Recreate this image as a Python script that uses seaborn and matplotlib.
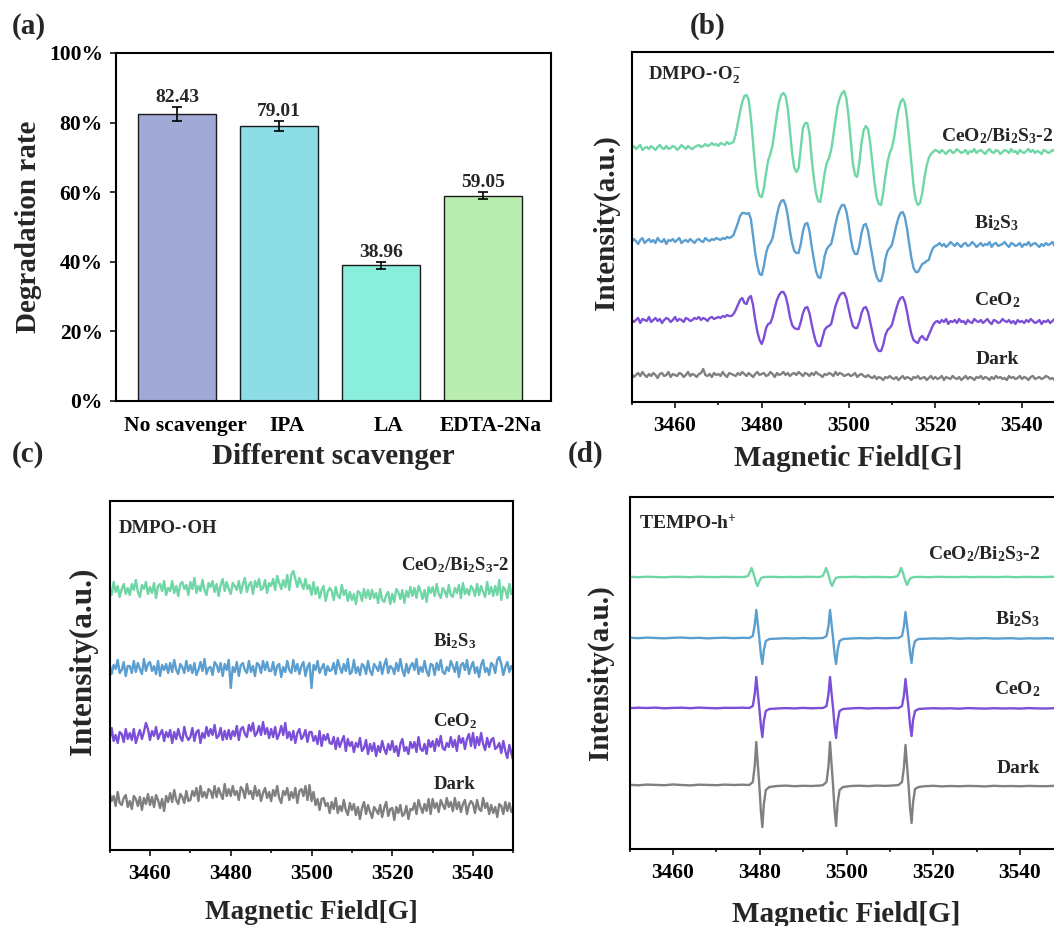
import numpy as np
import pandas as pd
import matplotlib
matplotlib.use("Agg")
import matplotlib.pyplot as plt
import matplotlib.transforms as mtransforms
from matplotlib.ticker import MultipleLocator, FuncFormatter
import seaborn as sns

# (a) scavenger experiment
scavengers = ['No scavenger', 'IPA', 'LA', 'EDTA-2Na']
degradation = [82.43, 79.01, 38.96, 59.05]
degradation_err = [1.95, 1.4, 0.95, 0.95]
bar_colors = ['#a1a9d6', '#8cdde6', '#8aeedd', '#b9eeb0']

# EPR samples (same order in all three spectra panels)
samples = ['CeO2/Bi2S3-2', 'Bi2S3', 'CeO2', 'Dark']
sample_labels = [r'CeO$_2$/Bi$_2$S$_3$-2', r'Bi$_2$S$_3$', r'CeO$_2$', 'Dark']
line_colors = ['#6fd6a6', '#5b9fd1', '#7c4fd8', '#808080']

# field axis of the DMPO scans, 0.5 G step
field_grid = np.arange(3450, 3550.01, 0.5)

# (b) DMPO-.O2- signal, relative to each baseline
o2_green = [
    0, 2, -1, 1, 3, -2, 0, 1, -1, 2, 0, -2, 1, 3, 0, -1, 2, -1, 0, 2,
    1, -2, 0, 3, 1, -1, 2, 0, -1, 1, 2, 3, 1, 2, 4, 2, 3, 5, 3, 4,
    2, 5, 4, 3, 6, 4,
    5, 6, 14, 25, 36, 46, 52, 53, 48, 30,
    5, -20, -40, -48, -49, -40, -25, -12, -6, 3,
    18, 34, 46, 53, 55, 52, 40, 18, -5, -20,
    -24, -20, 0, 20, 25, 25, 15, -10, -30, -45,
    -53, -54, -40, -25, -15, -10, -2, 12, 28, 42,
    50, 55, 57, 50, 32, 8, -15, -27, -29, -15,
    5, 18, 22, 19, 5, -15, -35, -50, -56, -57,
    -45, -28, -14, -5, 0, 10, 25, 38, 46, 49,
    45, 30, 8, -15, -38, -52, -57, -55, -45, -30,
    -18, -10, -6, -4, -2,
    -3, -5, -2, -4, -6, -3, -2, -5, -4, -1, -3, -5, -4, -2, -6, -3, -4, -1, -5, -3,
    -2, -4, -6, -3, -1, -4, -5, -2, -3, -6, -4, -2, -3, -5, -1, -4, -3, -6, -2, -4,
    -5, -3, -1, -4, -2, -5, -3, -4, -6, -2, -3, -5, -4, -2, -3, -1, -4, -5, -3, -4,
]
o2_blue = [
    -1, 2, 0, -3, 1, 3, -2, 0, 2, -1, 1, -2, 3, 0, -1, 2, -3, 1, 0, 2,
    -1, 1, 3, -2, 0, 1, -1, 2, 0, -2, 1, 2, 0, -1, 3, 1, 0, 2, 1, 3,
    2, 1, 3, 2, 4, 3,
    4, 6, 12, 18, 25, 28, 28, 27, 28, 22,
    5, -12, -25, -33, -34, -25, -12, -5, -2, 3,
    14, 26, 35, 40, 41, 36, 25, 10, -2, -10,
    -12, -12, -3, 10, 17, 18, 10, -5, -18, -30,
    -36, -37, -28, -15, -8, -5, -3, 6, 17, 26,
    32, 36, 36, 30, 18, 3, -8, -13, -13, -5,
    8, 16, 17, 10, -3, -15, -28, -36, -40, -40,
    -32, -18, -10, -7, -4, 5, 15, 23, 28, 29,
    24, 12, -3, -17, -27, -31, -31, -27, -23, -22,
    -20, -19, -12, -7, -5,
    -4, -2, -5, -3, -6, -4, -1, -3, -5, -2, -4, -6, -3, -2, -5, -4, -1, -3, -6, -4,
    -2, -5, -3, -4, -1, -6, -3, -2, -5, -4, -3, -1, -4, -6, -2, -3, -5, -4, -2, -6,
    -3, -4, -1, -5, -3, -2, -4, -6, -3, -5, -2, -4, -3, -1, -5, -4, -2, -6, -3, -4,
]
o2_purple = [
    1, -2, 0, 2, -3, 1, 0, -1, 3, -2, 0, 2, -1, 1, -3, 0, 2, 1, -2, 0,
    3, -1, 1, 0, -2, 2, 1, -1, 0, 2, 1, 3, 0, 2, 1, -1, 2, 3, 1, 2,
    3, 2, 4, 3, 5, 4,
    4, 6, 10, 15, 20, 22, 17, 16, 22, 24,
    15, 0, -12, -20, -24, -18, -8, -4, -3, 3,
    12, 20, 25, 28, 28, 24, 15, 3, -5, -8,
    -9, -9, -2, 7, 12, 13, 7, -4, -14, -22,
    -26, -26, -18, -10, -7, -6, -4, 5, 14, 20,
    25, 27, 27, 22, 12, 2, -6, -8, -8, -2,
    7, 12, 13, 8, -2, -12, -22, -28, -31, -31,
    -25, -15, -10, -8, -5, 3, 11, 18, 22, 23,
    18, 8, -4, -14, -20, -22, -23, -18, -16, -19,
    -20, -15, -10, -5, -2,
    -1, -3, 0, -2, 1, -4, -1, -2, 0, -3, 1, -2, -1, -4, 0, -2, -3, 1, -1, -2,
    0, -3, -1, 1, -2, -4, 0, -1, -3, -2, 1, -1, -2, 0, -3, -1, -4, 0, -2, -1,
    -3, 0, -2, 1, -1, -3, -2, 0, -4, -1, -2, 0, -3, -1, 1, -2, -3, -1, 0, -2,
]
o2_gray = [
    1, -2, 0, 2, -1, 3, 0, -2, 1, -1, 2, 0, -3, 1, 2, -1, 0, 3, -2, 1,
    0, -1, 2, 1, -2, 0, 3, -1, 1, 0, -2, 1, 2, 6, 0, -1, 1, -2, 2, 0,
    1, -1, 3, 0, -2, 2, 1, 0, -1, 2, 0, 3, 1, -1, 2, 0, -2, 1, 3, 0,
    1, 2, -1, 0, 3, 1, -2, 2, 0, 1, 3, 0, 2, -1, 1, 2, 0, 3, 1, -1,
    2, 1, -1, 2, 0, 3, 1, 0, -2, 1, 0, 2, 1, -1, 3, 0, 2, 1, -1, 0,
    1, -1, 0, 2, -2, 0, 1, -1, -2, 0, -2, -3, -1, -4, -2, -3, -5, -2, -3, -1,
    -3, -4, -2, -5, -3, -1, -4, -2, -3, -5, -2, -3, -1, -4, -3, -2, -5, -3, -1, -4,
    -2, -4, -3, -1, -5, -2, -3, -4, -1, -3, -4, -2, -5, -3, -1, -4, -2, -3, -5, -2,
    -3, -1, -4, -2, -3, -5, -2, -4, -1, -3, -2, -4, -3, -5, -1, -3, -2, -4, -3, -1,
    -4, -2, -3, -5, -2, -1, -4, -3, -2, -4, -3, -1, -2, -4, -3, -5, -2, -3, -1, -2,
    -3,
]
o2_offsets = [254, 161, 82, 27]

# (c) DMPO-.OH signal (noise only)
oh_green = [
    3, -5, 8, -2, 4, -7, 1, 6, -4, 2, -5, 6, 0, 10, -2, -7, 5, 1, 8, -4,
    3, -3, 7, -8, 4, 6, -1, 9, -5, 2, -1, 9, -3, 4, -6, 6, 8, 1, 5, -5,
    8, 1, 12, -3, 4, -1, 10, 0, -5, 7, 3, 9, -2, 6, -6, 5, 11, -1, 8, 1,
    -4, 7, 4, 0, 9, -3, 6, 12, -2, 5, 8, -4, 9, 3, 11, 0, 2, 10, -3, 7,
    4, 11, 0, 14, 7, 1, 10, 3, 15, 0, 15, 19, 11, 3, 12, 6, 1, 11, 1, 5,
    -5, 8, -4, 3, -8, 0, 4, -11, -2, 2, -1, -10, 3, -6, -8, 5, -5, 0, -11, -2,
    -10, -4, -14, -1, -3, -11, 1, -8, 0, -9, 0, -8, -3, -13, 1, -10, -12, -5, -2, -14,
    -4, -12, 1, -2, -9, 0, -13, -1, -7, 3, -6, 2, -8, 4, -1, -9, 0, -12, 3, -3,
    3, -6, 6, -4, -8, 2, -1, -7, 5, -5, -7, 2, -3, 5, -8, 7, -4, 1, -5, 4,
    1, -6, 6, -5, 4, -2, -7, 8, -4, 3, -6, 4, -5, 10, -10, 3, 0, -8, 6, -4,
    -3,
]
oh_blue = [
    4, -6, 3, -1, 8, -5, -2, 6, -8, 2, 2, -5, 7, -4, 5, -1, -6, 9, -3, 4,
    6, -3, 2, -6, 7, -8, 3, -2, 4, -5, 5, -4, 8, -2, -6, 4, 1, -5, 7, -3,
    3, -5, 5, -7, -2, 6, -3, 9, -6, 0, 1, -7, 6, 3, -4, 5, -8, 4, -2, 8,
    -20, 1, -4, 6, -8, 3, 5, -2, -5, 7, -4, 2, -8, 5, 3, -5, 7, -2, 6, -3,
    -3, 6, -7, 2, 4, -9, 1, -4, 7, -2, -5, 8, -3, 4, -6, 2, 6, -8, 1, 5,
    -20, 3, -2, 7, -5, 0, 4, -7, 2, -3, -2, 5, -6, 8, 1, -5, 4, -3, 9, -6,
    -4, 8, -5, 1, -7, 4, 2, -6, 7, -3, -7, 4, 1, -3, 6, -6, 3, 9, -5, 2,
    0, -6, 5, -3, 9, -2, -8, 4, -5, 2, 5, -2, 9, -6, 1, -4, 7, -3, -8, 4,
    3, -7, 5, -2, 8, -4, -6, 1, -3, 7, 2, -4, 6, -9, 3, 5, -2, 8, -6, 1,
    6, -5, 1, -9, 3, 8, -4, 0, -7, 5, 3, -5, 8, 11, 4, -7, 1, 6, -4, 2,
    -3,
]
oh_purple = [
    -3, 9, -4, 2, -6, 5, 3, -5, 8, -2, 4, -3, 8, -6, 1, 7, -2, 5, 14, 8,
    -3, 6, 1, 10, -2, 3, 7, -4, 5, 0, 7, -6, 5, -2, 8, 0, -4, 10, 1, -3,
    0, 9, -4, 5, 7, -6, 4, -1, 10, 1, 8, 2, 12, -1, 1, 9, -3, 6, -2, 7,
    -2, 6, 1, 11, -3, 8, 10, 3, 0, 12, 6, 14, 1, 4, 11, 2, 15, 3, 9, -1,
    8, 0, 10, -2, 3, 11, 2, 14, -1, 5, -3, 6, -6, 4, 8, -2, 1, 7, -5, 5,
    5, -4, 1, -7, 6, -9, 2, -3, 3, -6, -7, 0, -12, -1, -10, -4, 1, -14, -2, -9,
    -5, -15, -6, -10, -1, -14, -11, -3, -17, -7, -14, -6, -19, -9, -15, -4, -12, -17, -7, -13,
    -4, -15, -9, -19, -7, -2, -14, -10, -17, -5, -11, -5, -15, 0, -12, -14, -7, -17, -3, -10,
    -4, -14, -2, -9, 1, -11, -13, -6, -10, 0, -10, -3, -14, 1, -6, -1, -12, -2, 3, -9,
    4, -11, 0, -8, 4, -7, -13, -1, -10, -3, -1, -12, -10, -6, -16, -4, -14, -21, -8, -16,
    -24,
]
oh_gray = [
    7, -1, 4, -6, 8, -3, -5, 2, 5, -7, -1, -9, 4, 1, -6, 3, -10, 2, -4, 6,
    -5, 3, -7, 5, 0, -8, 1, -11, 4, -2, 7, -2, 10, 0, -4, 6, 3, -3, 9, -1,
    0, 9, 4, 12, -1, 14, 3, 8, 2, 11, 9, 2, 14, 3, 12, 6, 1, 16, 4, 11,
    4, 14, 5, 9, 0, 13, 10, 2, 16, 6, 9, 1, 14, 4, 10, -1, 7, 12, 2, 8,
    -1, 10, 4, 14, 2, -3, 9, 5, 12, 0, 8, 2, 12, -3, 9, 11, 4, 14, 0, 15,
    -1, 8, -5, 1, -10, 1, 2, -6, -3, -13, -2, -9, 2, -13, -6, -11, 0, -10, -15, -3,
    -10, -4, -15, -7, -19, -8, -2, -14, -5, -12, -18, -7, -10, -14, -5, -17, -8, -2, -16, -9,
    -8, -20, -7, -13, -5, -16, -14, -6, -19, -9, -10, -3, -14, 0, -7, -13, -4, -11, 1, -14,
    1, -8, -3, -12, 0, -5, -9, 2, -7, -2, -11, 2, -9, -2, -12, -4, 0, -14, -5, -1,
    -4, -13, 0, -9, -11, 2, -8, -3, -14, -5, -13, -7, -17, -4, -6, -14, -2, -11, -3, -12,
    -10,
]
oh_offsets = [260, 182, 113, 50]

# (d) TEMPO-h+ signal
tempo_field = [
    3450, 3452, 3454, 3456, 3458, 3460, 3462, 3464, 3466, 3468, 3470, 3472, 3474, 3476,
    3477.6, 3478.4, 3478.85, 3479.2, 3479.55, 3479.9, 3480.25, 3480.6, 3480.95, 3481.4, 3482.2,
    3484, 3486, 3488, 3490, 3492, 3494,
    3494.6, 3495.4, 3495.85, 3496.2, 3496.55, 3496.9, 3497.25, 3497.6, 3497.95, 3498.4, 3499.2,
    3501, 3503, 3505, 3507, 3509, 3511,
    3512.0, 3512.8, 3513.25, 3513.6, 3513.95, 3514.3, 3514.65, 3515.0, 3515.35, 3515.8, 3516.6,
    3518, 3520, 3522, 3524, 3526, 3528, 3530, 3532, 3534, 3536, 3538, 3540, 3542, 3544,
    3546, 3548, 3550,
]
tempo_field_green = [
    3450, 3452, 3454, 3456, 3458, 3460, 3462, 3464, 3466, 3468, 3470, 3472, 3474,
    3476.5, 3477.3, 3477.75, 3478.1, 3478.45, 3478.8, 3479.15, 3479.5, 3479.85, 3480.3, 3481.1,
    3483, 3485, 3487, 3489, 3491, 3493,
    3493.7, 3494.5, 3494.95, 3495.3, 3495.65, 3496.0, 3496.35, 3496.7, 3497.05, 3497.5, 3498.3,
    3500, 3502, 3504, 3506, 3508, 3510,
    3511.0, 3511.8, 3512.25, 3512.6, 3512.95, 3513.3, 3513.65, 3514.0, 3514.35, 3514.8, 3515.6,
    3517, 3519, 3521, 3523, 3525, 3527, 3529, 3531, 3533, 3535, 3537, 3539, 3541, 3543,
    3545, 3547, 3549, 3550,
]
tempo_green = [
    0.2, -0.2, 0.3, 0, -0.3, 0.2, 0.1, -0.2, 0.3, 0, -0.1, 0.2, 0,
    0, 1, 5, 9, 5, 0, -6, -9, -5, -1, 0,
    0.2, -0.2, 0.1, -0.1, 0.2, 0,
    0, 1, 5, 9, 5, 0, -6, -9, -5, -1, 0,
    -0.1, 0.2, -0.2, 0.1, 0, -0.2,
    0, 1, 5, 9, 5, 0, -5, -8, -4, -1, 0,
    0.1, -0.2, 0.2, 0, -0.1, 0.2, -0.2, 0.1, 0, -0.1, 0.2, -0.2, 0.1, 0, -0.1, 0.2, 0, -0.1,
]
tempo_blue = [
    0.3, -0.2, 0.4, 0, -0.3, 0.2, 0.5, -0.1, 0.2, -0.4, 0.1, 0.3, -0.2, 0.2,
    0, 2, 13, 28, 14, 0, -16, -26, -12, -3, -1,
    -0.6, -0.2, -0.5, 0, -0.4, -0.1,
    0, 2, 12, 28, 14, 0, -16, -26, -12, -3, -1,
    -0.5, -0.1, -0.4, 0.1, -0.3, 0,
    0, 2, 12, 26, 13, 0, -15, -25, -11, -3, -1,
    -0.8, -0.4, -0.6, -0.2, -0.7, -0.3, -0.5, -0.1, -0.6, -0.4, -0.2, -0.7, -0.3, -0.5,
    -0.2, -0.6, -0.4,
]
tempo_purple = [
    -0.2, 0.3, 0, 0.4, -0.3, 0.1, 0.3, -0.2, 0.4, 0, -0.3, 0.2, 0.1, 0.3,
    0, 2, 14, 31, 15, 0, -17, -29, -13, -3, -1,
    -0.5, -0.1, -0.4, 0.1, -0.3, 0,
    0, 2, 14, 31, 15, 0, -18, -30, -13, -3, -1,
    -0.4, 0, -0.5, -0.1, -0.3, 0.1,
    0, 2, 13, 29, 14, 0, -17, -28, -12, -3, -1,
    -0.6, -0.2, -0.5, -0.3, -0.7, -0.1, -0.4, -0.6, -0.2, -0.5, -0.3, -0.6, -0.1, -0.4,
    -0.5, -0.2, -0.4,
]
tempo_gray = [
    0.2, -0.3, 0.4, 0.1, -0.2, 0.5, 0, -0.4, 0.3, 0.1, -0.2, 0.4, 0, 0.3,
    0, 3, 19, 43, 21, 0, -25, -42, -19, -5, -2,
    -1, -0.6, -1.2, -0.8, -1, -0.5,
    0, 3, 19, 43, 21, 0, -25, -41, -18, -5, -2,
    -1, -0.7, -1.1, -0.6, -0.9, -0.4,
    0, 3, 18, 40, 20, 0, -23, -38, -17, -4, -2,
    -1.2, -0.8, -1.4, -1, -1.3, -0.9, -1.1, -1.4, -0.8, -1.2, -1, -1.3, -0.9, -1.1,
    -1.2, -0.8, -1,
]
tempo_offsets = [272, 211, 141, 64]

SERIF = 'Liberation Serif'
sns.set_theme(style='ticks')
plt.rcParams['font.family'] = [SERIF, 'DejaVu Serif']
plt.rcParams['font.weight'] = 'bold'
plt.rcParams['axes.labelweight'] = 'bold'
plt.rcParams['mathtext.fontset'] = 'custom'
plt.rcParams['mathtext.rm'] = SERIF + ':bold'
plt.rcParams['mathtext.it'] = SERIF + ':italic:bold'
plt.rcParams['mathtext.bf'] = SERIF + ':bold'
plt.rcParams['mathtext.default'] = 'rm'
plt.rcParams['axes.edgecolor'] = 'black'
plt.rcParams['xtick.color'] = 'black'
plt.rcParams['ytick.color'] = 'black'

palette = dict(zip(samples, line_colors))


def stack(fields, values, offsets):
    frames = []
    for name, f, v, off in zip(samples, fields, values, offsets):
        frames.append(pd.DataFrame({'field': np.asarray(f, float),
                                    'intensity': np.asarray(v, float) + off,
                                    'sample': name}))
    return pd.concat(frames, ignore_index=True)


def style_epr(ax, ymax, ylab_y, ylab_x, xlab_y, ylab_size=21, xlab_size=21):
    ax.set_xlim(3450, 3550)
    ax.set_ylim(0, ymax)
    ax.set_yticks([])
    ax.xaxis.set_major_locator(MultipleLocator(20))
    ax.xaxis.set_minor_locator(MultipleLocator(10))
    ax.tick_params(axis='x', which='major', direction='out', length=4.5, width=1.1,
                   pad=5.5, labelsize=15.5)
    ax.tick_params(axis='x', which='minor', direction='out', length=2.5, width=1.1)
    for sp in ax.spines.values():
        sp.set_linewidth(1.5)
        sp.set_color('black')
    ax.set_xlabel('Magnetic Field[G]', fontsize=xlab_size)
    ax.set_ylabel('Intensity(a.u.)', fontsize=ylab_size)
    ax.xaxis.set_label_coords(0.5, xlab_y)
    ax.yaxis.set_label_coords(ylab_x, ylab_y)


def draw_epr(ax, df):
    sns.lineplot(data=df, x='field', y='intensity', hue='sample', hue_order=samples,
                 palette=palette, estimator=None, sort=False, lw=1.7, legend=False, ax=ax)


W, H = 1054, 926
fig = plt.figure(figsize=(W / 100, H / 100), dpi=100)


def px_axes(left, top, right, bottom):
    return fig.add_axes([left / W, 1 - bottom / H, (right - left) / W, (bottom - top) / H])


# ---- (a) bars
ax_a = px_axes(116, 53, 551, 401)
sns.barplot(x=scavengers, y=degradation, hue=scavengers, palette=bar_colors, width=0.765,
            saturation=1, edgecolor='#1a1a1a', linewidth=1.0, legend=False, ax=ax_a)
ax_a.errorbar(range(len(scavengers)), degradation, yerr=degradation_err, fmt='none',
              ecolor='black', elinewidth=1.2, capsize=3.5, capthick=1.2)
for i, (v, e) in enumerate(zip(degradation, degradation_err)):
    ax_a.text(i, v + e + 1.6, f'{v:.2f}', ha='center', va='baseline', fontsize=14,
              fontweight='bold')
ax_a.set_xlim(-0.6, 3.667)
ax_a.set_ylim(0, 100)
ax_a.yaxis.set_major_locator(MultipleLocator(20))
ax_a.yaxis.set_major_formatter(FuncFormatter(lambda v, p: f'{v:.0f}%'))
ax_a.tick_params(axis='y', direction='out', length=4.5, width=1.1, pad=5, labelsize=15.5)
ax_a.tick_params(axis='x', length=0, pad=11, labelsize=15.5)
shift = mtransforms.ScaledTranslation(8 / 100, 0, fig.dpi_scale_trans)
for lab in ax_a.get_xticklabels():
    lab.set_transform(lab.get_transform() + shift)
for sp in ax_a.spines.values():
    sp.set_linewidth(1.5)
    sp.set_color('black')
ax_a.set_xlabel('Different scavenger', fontsize=21)
ax_a.set_ylabel('Degradation rate', fontsize=21)
ax_a.xaxis.set_label_coords(0.5, -0.121)
ax_a.yaxis.set_label_coords(-0.170, 0.5)

# ---- (b) DMPO-.O2-
ax_b = px_axes(631.6, 52, 1065.4, 402)
draw_epr(ax_b, stack([field_grid] * 4, [o2_green, o2_blue, o2_purple, o2_gray], o2_offsets))
style_epr(ax_b, 350, 0.512, -0.027, -0.123)
ax_b.text(3453.8, 322, 'DMPO-·O$_2^{-}$', fontsize=13.5, ha='left', va='baseline')
for lab, y in zip(sample_labels, [260.3, 173.7, 97, 38]):
    ax_b.text(3534.2, y, lab, fontsize=14, ha='center', va='baseline')

# ---- (c) DMPO-.OH
ax_c = px_axes(109.6, 501, 513.4, 850)
draw_epr(ax_c, stack([field_grid] * 4, [oh_green, oh_blue, oh_purple, oh_gray], oh_offsets))
style_epr(ax_c, 349, 0.542, -0.029, -0.143, ylab_size=22.5, xlab_size=19.5)
ax_c.text(3452.3, 316.7, 'DMPO-·OH', fontsize=13.5, ha='left', va='baseline')
for lab, y in zip(sample_labels, [279.3, 203.3, 123.3, 60.7]):
    ax_c.text(3535.5, y, lab, fontsize=13.5, ha='center', va='baseline')

# ---- (d) TEMPO-h+
ax_d = px_axes(629.6, 497, 1063.4, 849)
draw_epr(ax_d, stack([tempo_field_green, tempo_field, tempo_field, tempo_field],
                     [tempo_green, tempo_blue, tempo_purple, tempo_gray], tempo_offsets))
style_epr(ax_d, 352, 0.5, -0.036, -0.147)
ax_d.text(3452.2, 320.7, 'TEMPO-h$^{+}$', fontsize=14, ha='left', va='baseline')
for lab, y in zip(sample_labels, [289.7, 225, 155, 75.7]):
    ax_d.text(3544.6, y, lab, fontsize=14, ha='right', va='baseline')

# panel letters
for letter, x, y in [('(a)', 12, 34), ('(b)', 690, 34), ('(c)', 12, 462), ('(d)', 568, 462)]:
    fig.text(x / W, 1 - y / H, letter, fontsize=21, fontweight='bold', ha='left', va='baseline')

fig.savefig('out.png', dpi=100)
